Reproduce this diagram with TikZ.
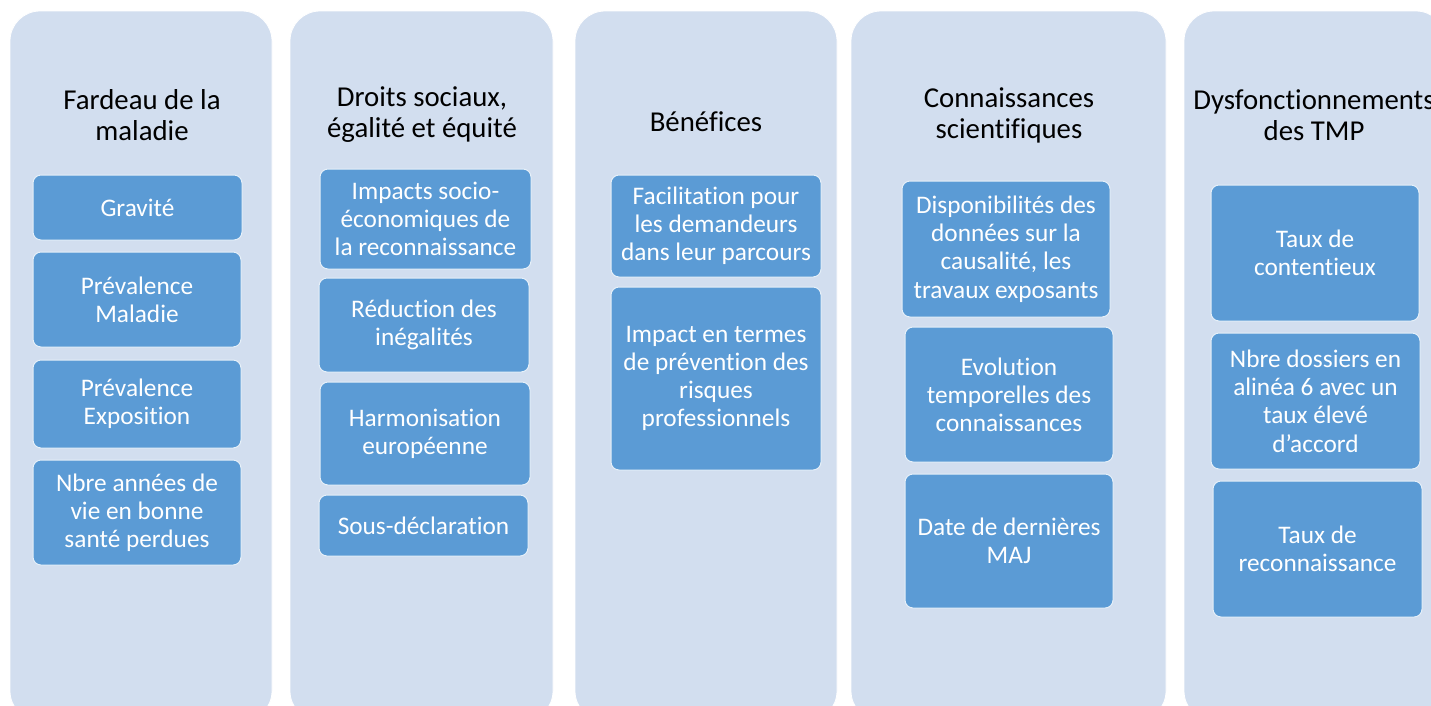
\documentclass[tikz,border=0pt]{standalone}
\usepackage{fontspec}
\setmainfont{Carlito}[Ligatures=CommonOff]
\definecolor{panelfill}{HTML}{D2DEEF}
\definecolor{boxfill}{HTML}{5B9BD5}
\tikzset{
  panel/.style={draw=white, line width=0.8pt, fill=panelfill, rounded corners=30pt, inner sep=0pt},
  ibox/.style={draw=white!85!boxfill, line width=1pt, fill=boxfill, rounded corners=8pt, inner sep=0pt,
    text=white, align=center, font=\fontsize{25.3}{28.2}\selectfont},
  ttl/.style={align=center, text=black, font=\fontsize{28.8}{31}\selectfont, inner sep=0pt},
}
\begin{document}
\begin{tikzpicture}[x=1pt,y=-1pt]
\useasboundingbox (0,0) rectangle (1431,705);
\clip (0,0) rectangle (1431,705);
\fill[white] (0,0) rectangle (1431,705);
% panels
\node[panel, minimum width=262pt, minimum height=710pt] (P1) at (141,366) {};
\node[panel, minimum width=263pt, minimum height=710pt] (P2) at (421.5,366) {};
\node[panel, minimum width=262pt, minimum height=710pt] (P3) at (706,366) {};
\node[panel, minimum width=315pt, minimum height=710pt] (P4) at (1008.5,366) {};
\node[panel, minimum width=262pt, minimum height=710pt] (P5) at (1315,366) {};
% titles
\node[ttl] (T1) at (142,115) {Fardeau de la\\maladie};
\node[ttl] (T2) at (422,115) {Droits sociaux,\\égalité et équité};
\node[ttl] (T3) at (706,122) {Bénéfices};
\node[ttl] (T4) at (1009,115) {Connaissances\\scientifiques};
\node[ttl] (T5) at (1314,115) {Dysfonctionnements\\des TMP};
% column 1
\node[ibox, minimum width=209pt, minimum height=65pt] (A1) at (137.5,207.5) {Gravité};
\node[ibox, minimum width=208pt, minimum height=95pt] (A2) at (137,299.5) {Prévalence\\Maladie};
\node[ibox, minimum width=208pt, minimum height=88pt] (A3) at (137,404) {Prévalence\\Exposition};
\node[ibox, minimum width=208pt, minimum height=105pt] (A4) at (137,512.5) {Nbre années de\\vie en bonne\\santé perdues};
% column 2
\node[ibox, minimum width=211pt, minimum height=100pt] (B1) at (425.5,219) {Impacts socio-\\économiques de\\la reconnaissance};
\node[ibox, minimum width=210pt, minimum height=94pt] (B2) at (424,325) {Réduction des\\inégalités};
\node[ibox, minimum width=210pt, minimum height=103pt] (B3) at (425,433.5) {Harmonisation\\européenne};
\node[ibox, minimum width=209pt, minimum height=61pt] (B4) at (423.5,525.5) {Sous-déclaration};
% column 3
\node[ibox, minimum width=210pt, minimum height=102pt] (C1) at (716,226) {Facilitation pour\\les demandeurs\\dans leur parcours};
\node[ibox, minimum width=210pt, minimum height=183pt] (C2) at (716,378.5) {Impact en termes\\de prévention des\\risques\\professionnels};
% column 4
\node[ibox, minimum width=208pt, minimum height=136pt] (D1) at (1006,249) {Disponibilités des\\données sur la\\causalité, les\\travaux exposants};
\node[ibox, minimum width=208pt, minimum height=135pt] (D2) at (1009,394.5) {Evolution\\temporelles des\\connaissances};
\node[ibox, minimum width=208pt, minimum height=134pt] (D3) at (1009,541) {Date de dernières\\MAJ};
% column 5
\node[ibox, minimum width=208pt, minimum height=136pt] (E1) at (1315,253) {Taux de\\contentieux};
\node[ibox, minimum width=209pt, minimum height=136pt] (E2) at (1315.5,401) {Nbre dossiers en\\alinéa 6 avec un\\taux élevé\\d’accord};
\node[ibox, minimum width=209pt, minimum height=136pt] (E3) at (1317.5,549) {Taux de\\reconnaissance};
\end{tikzpicture}
\end{document}
